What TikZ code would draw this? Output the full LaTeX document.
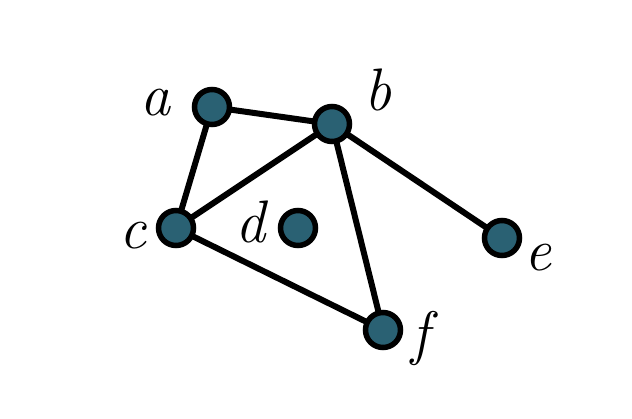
\documentclass[tikz,border=0pt]{standalone}
\definecolor{vfill}{HTML}{2A6173}
\begin{document}
\begin{tikzpicture}[x=1pt,y=-1pt,
  vert/.style={circle,draw=black,line width=5.5pt,fill=vfill,minimum size=35pt,inner sep=0pt},
  lbl/.style={font=\fontsize{60}{64}\selectfont\itshape,inner sep=0pt},
  edge/.style={line width=6pt,shorten <=-1pt,shorten >=-1pt}]
\useasboundingbox (0,0) rectangle (632,418);
\node[vert] (a) at (212,107) {};
\node[vert] (b) at (332,124) {};
\node[vert] (c) at (176,228) {};
\node[vert] (d) at (298,228) {};
\node[vert] (e) at (502,238) {};
\node[vert] (f) at (383,330) {};
\node[lbl] (la) at (155,103) {a};
\node[lbl] (lb) at (378,90) {b};
\node[lbl] (lc) at (133,236) {c};
\node[lbl] (ld) at (250,222) {d};
\node[lbl] (le) at (538,258) {e};
\node[lbl] (lf) at (420,338) {f};
\draw[edge] (a) -- (b);
\draw[edge] (a) -- (c);
\draw[edge] (b) -- (c);
\draw[edge] (b) -- (f);
\draw[edge] (b) -- (e);
\draw[edge] (c) -- (f);
\end{tikzpicture}
\end{document}
